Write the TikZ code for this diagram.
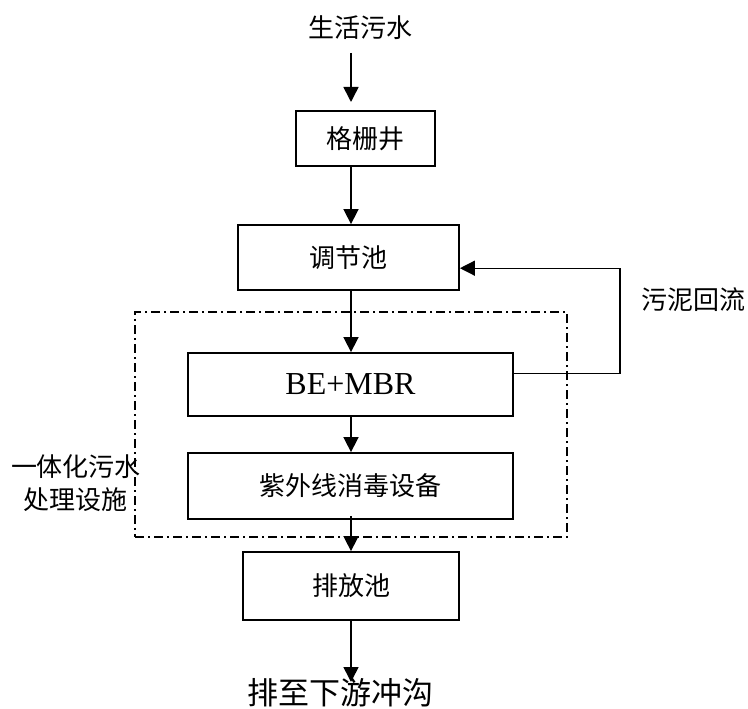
\documentclass[tikz,border=0pt]{standalone}
\usepackage{fontspec}
\setmainfont{Noto Sans CJK SC}
\newfontfamily\latinserif{Liberation Serif}
\usetikzlibrary{arrows.meta,calc}
\begin{document}
\begin{tikzpicture}[x=1pt,y=-1pt,
  procbox/.style={draw,line width=1.8pt,inner sep=0pt,font=\fontsize{26}{30}\selectfont},
  arr/.style={line width=1.6pt,-{Triangle[length=15pt,width=15pt]}},
  plain/.style={inner sep=0pt,font=\fontsize{26}{30}\selectfont},
  fb/.style={line width=1.3pt,-{Triangle[length=15pt,width=15pt]}},
  zone/.style={draw,line width=1.3pt,dash pattern=on 9pt off 4pt on 2pt off 4pt}]
\useasboundingbox (0,0) rectangle (748,709);
\coordinate (col) at (351,0);
\node[plain] (src) at (360.5,28) {生活污水};
\node[procbox,minimum width=139pt,minimum height=55pt] (grille) at (365.5,138.5) {格栅井};
\node[procbox,minimum width=221pt,minimum height=65pt] (tank) at (348.5,257.5) {调节池};
\node[procbox,minimum width=325pt,minimum height=63pt,font=\latinserif\fontsize{32}{36}\selectfont] (mbr) at (350.5,384.5) {BE+MBR};
\node[procbox,minimum width=325pt,minimum height=66pt] (uv) at (350.5,486) {紫外线消毒设备};
\node[procbox,minimum width=216pt,minimum height=68pt] (out) at (351,586) {排放池};
\node[plain,font=\fontsize{31}{34}\selectfont] (dest) at (340,693) {排至下游冲沟};
\node[plain] (fblabel) at (693,300) {污泥回流};
\node[plain,align=center,font=\fontsize{26}{33}\selectfont] (zonelabel) at (76,483.5) {一体化污水\\处理设施};
\node[zone,inner sep=0pt,minimum width=432pt,minimum height=225pt] (zonebox) at (351,424.5) {};
\draw[arr] (col |- 0,53) -- (col |- 0,102);
\draw[arr] (grille.south -| col) -- (tank.north -| col);
\draw[arr] (tank.south -| col) -- (mbr.north -| col);
\draw[arr] (mbr.south -| col) -- (uv.north -| col);
\draw[arr] ([yshift=4pt]uv.south -| col) -- (out.north -| col);
\draw[arr] (out.south -| col) -- (col |- 0,682);
\coordinate (fbstart) at ($(mbr.north east)!0.33!(mbr.south east)$);
\coordinate (fbend) at ($(tank.north east)!0.66!(tank.south east)$);
\draw[fb] (fbstart) -- (620,0 |- fbstart) -- (620,0 |- fbend) -- (fbend);
\end{tikzpicture}
\end{document}
